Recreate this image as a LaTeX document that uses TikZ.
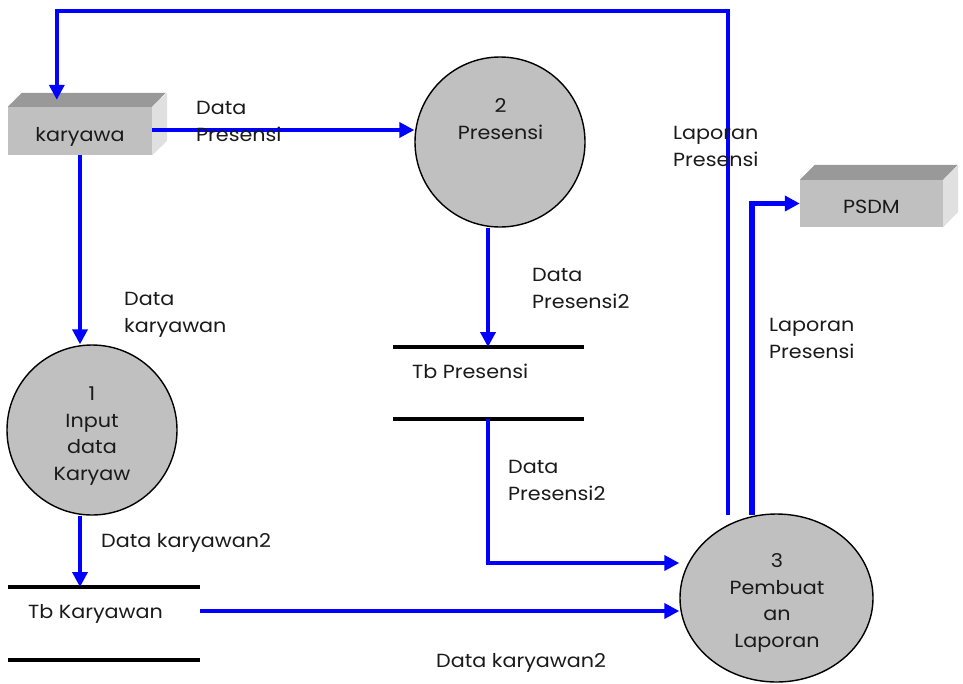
\documentclass[tikz,border=0pt]{standalone}
\usepackage{fontspec}
\setmainfont{Poppins}[FakeStretch=1.09]
\usetikzlibrary{arrows.meta,shapes.geometric,calc}
\definecolor{procgray}{HTML}{C0C0C0}
\definecolor{topgray}{HTML}{999999}
\definecolor{sidegray}{HTML}{E0E0E0}
\definecolor{txt}{HTML}{1A1A1A}
\begin{document}
\begin{tikzpicture}[x=1pt,y=-1pt,
  flow/.style={draw=blue, line width=3.6pt, -{Triangle[length=15pt,width=15pt]}},
  flowthick/.style={flow, line width=5.5pt},
  proc/.style={draw=black, line width=1.4pt, fill=procgray, inner sep=0pt},
  boxfront/.style={fill=procgray, minimum width=144pt, minimum height=48pt, inner sep=0pt},
  storeline/.style={draw=black, line width=4.5pt},
  lbl/.style={anchor=base west, inner sep=0pt, text=txt, align=left, font=\fontsize{19}{26.5}\selectfont},
  ctxt/.style={anchor=base, inner sep=0pt, text=txt, align=center, font=\fontsize{19}{26.5}\selectfont}]
\useasboundingbox (0,0) rectangle (963,683);

% external entity: karyawa
\node[boxfront] (kar) at (80,131) {};
\fill[topgray] (kar.north west) -- ++(14,-14) -- ++(144,0) -- (kar.north east) -- cycle;
\fill[sidegray] (kar.north east) -- ++(15,-14) -- ++(0,48) -- (kar.south east) -- cycle;
\node[ctxt] (kart) at (80,141.5) {karyawa};

% external entity: PSDM
\node[boxfront, minimum width=143pt, minimum height=47pt] (psdm) at (871.5,203.5) {};
\fill[topgray] (psdm.north west) -- ++(15,-15) -- ++(143,0) -- (psdm.north east) -- cycle;
\fill[sidegray] (psdm.north east) -- ++(15,-15) -- ++(0,47) -- (psdm.south east) -- cycle;
\node[ctxt] (psdmt) at (871.5,213) {PSDM};

% processes
\node[proc, circle, minimum size=170pt] (p1) at (92,430) {};
\node[ctxt] (p1t) at (92,480) {1\\Input\\data\\Karyaw};
\node[proc, circle, minimum size=170pt] (p2) at (500,142) {};
\node[ctxt] (p2t) at (500.5,139) {2\\Presensi};
\node[proc, ellipse, minimum width=193pt, minimum height=168pt] (p3) at (776.5,598) {};
\node[ctxt] (p3t) at (777,647) {3\\Pembuat\\an\\Laporan};

% data stores
\coordinate (s1a) at (8,587);
\coordinate (s1b) at (200,587);
\coordinate (s1c) at (8,660);
\coordinate (s1d) at (200,660);
\coordinate (s1r) at (200,611);
\draw[storeline] (s1a) -- (s1b);
\draw[storeline] (s1c) -- (s1d);
\node[lbl] (s1t) at (28,618) {Tb Karyawan};
\coordinate (s2a) at (393,347);
\coordinate (s2b) at (584,347);
\coordinate (s2c) at (393,419);
\coordinate (s2d) at (584,419);
\draw[storeline] (s2a) -- (s2b);
\draw[storeline] (s2c) -- (s2d);
\node[lbl] (s2t) at (412,378) {Tb Presensi};

% flows
\draw[flow] (kar.east |- 0,130) -- (p2.west |- 0,130);
\node[lbl] (l1) at (196,141) {Data\\Presensi};

\draw[flow] (kar.south) -- (kar.south |- p1.north);
\node[lbl] (l2) at (124,332) {Data\\karyawan};

\draw[flow] (p1.south -| kar.south) -- (kar.south |- s1a);
\node[lbl] (l3) at (101,547) {Data karyawan2};

\coordinate (p2out) at ($(p2.south)+(-12,0)$);
\draw[flow] (p2out) -- (p2out |- s2a);
\node[lbl] (l4) at (532,308) {Data\\Presensi2};

\coordinate (p3in1) at ($(p3.west)+(0,-35)$);
\coordinate (s2out) at ($(s2c)!0.5!(s2d)+(-0.5,0)$);
\draw[flow] (s2out) -- (s2out |- p3in1) -- (p3in1);
\node[lbl] (l5) at (508,500) {Data\\Presensi2};

\coordinate (p3in2) at ($(p3.west)+(0,13)$);
\draw[flow] (s1r) -- (p3in2);
\node[lbl] (l6) at (436,667) {Data karyawan2};

\coordinate (p3out1) at (728,515);
\coordinate (karin) at ($(kar.north west)+(49,-7)$);
\draw[flow] (p3out1) -- (728,11) -- (karin |- 0,11) -- (karin);
\node[lbl] (l7) at (673,166) {Laporan\\Presensi};

\coordinate (p3out2) at (752,515);
\draw[flowthick] (p3out2) -- (p3out2 |- psdm.west) -- (psdm.west);
\node[lbl] (l8) at (769,358) {Laporan\\Presensi};
\end{tikzpicture}
\end{document}
